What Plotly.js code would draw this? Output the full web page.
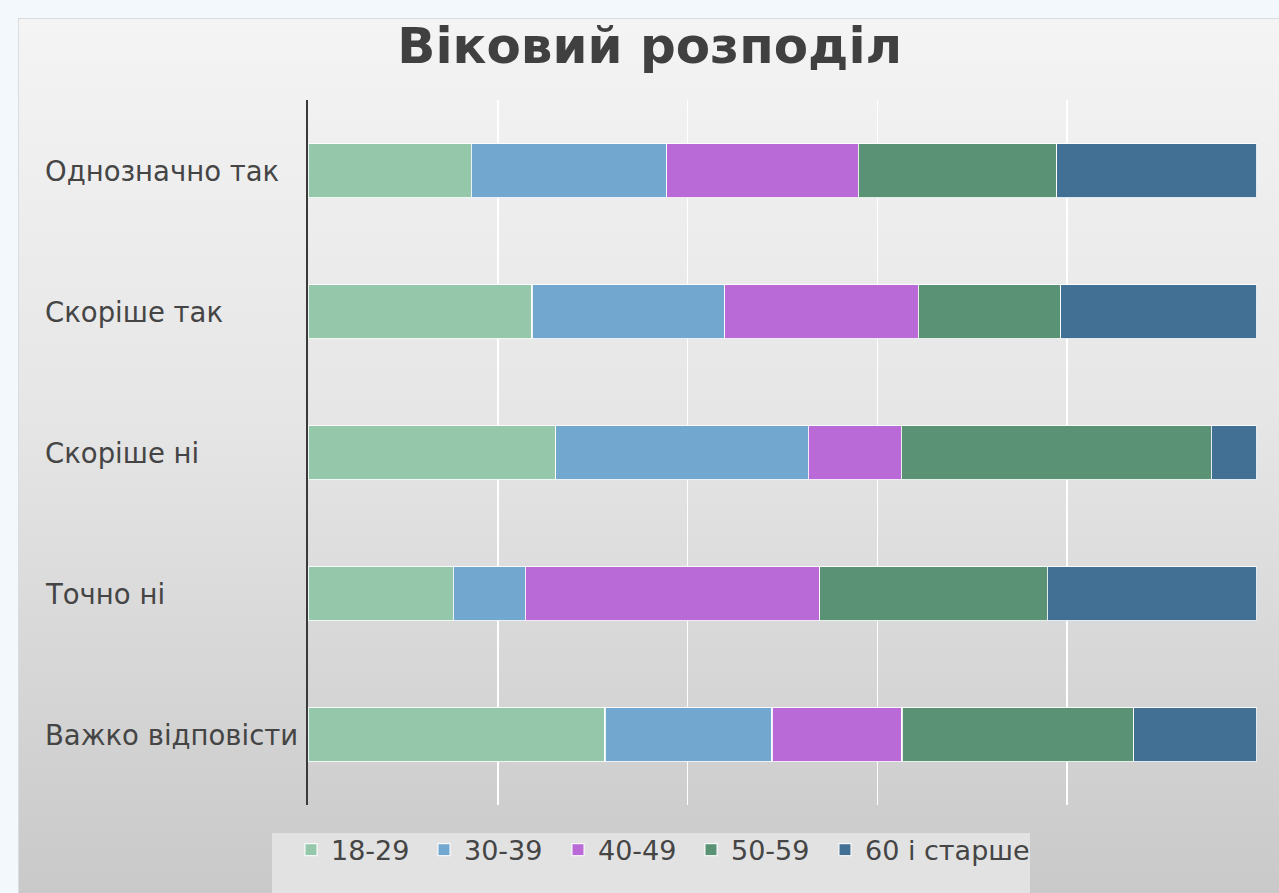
<!DOCTYPE html>
<html>
<head>
<meta charset="utf-8">
<script src="https://cdn.plot.ly/plotly-3.0.1.min.js"></script>
<style>
  html, body { margin:0; padding:0; width:1279px; height:893px; overflow:hidden; background:#f2f8fc; }
  #panel { position:absolute; left:18px; top:18px; width:1261px; height:875px;
           background: linear-gradient(to bottom, #f4f4f4 0%, #e6e6e6 45%, #c9c9c9 100%);
           border-top:1px solid #dcdcdc; border-left:1px solid #dcdcdc; box-sizing:border-box; }
  #chart { position:absolute; left:0; top:0; width:1279px; height:893px; }
</style>
</head>
<body>
<div id="panel"></div>
<div id="chart"></div>
<script>
const categories = ["Однозначно так", "Скоріше так", "Скоріше ні", "Точно ні", "Важко відповісти"];
const seriesNames = ["18-29", "30-39", "40-49", "50-59", "60 і старше"];
const v18_29 = [17.2, 23.6, 26.1, 15.3, 31.3];
const v30_39 = [20.6, 20.3, 26.6, 7.6, 17.6];
const v40_49 = [20.2, 20.4, 9.8, 31.0, 13.7];
const v50_59 = [20.9, 15.0, 32.7, 24.0, 24.4];
const v60plus = [21.1, 20.7, 4.8, 22.1, 13.0];
const titleText = "Віковий розподіл";

const seriesValues = [v18_29, v30_39, v40_49, v50_59, v60plus];
const colors = ["#95c8aa", "#72a8d0", "#b96ad7", "#5a9276", "#427094"];
const FONT = "DejaVu Sans, Liberation Sans, Arial, sans-serif";
const legendLeftPx = [291, 424, 558, 691, 825];

const legendIds = ["legend", "legend2", "legend3", "legend4", "legend5"];

const traces = seriesNames.map((name, i) => ({
  type: "bar",
  orientation: "h",
  name: name,
  legend: legendIds[i],
  y: categories,
  x: seriesValues[i],
  marker: { color: colors[i], line: { color: "rgba(255,255,255,0.85)", width: 1.2 } },
  hoverinfo: "skip"
}));

const annotations = categories.map(c => ({
  xref: "paper", yref: "y", x: -0.279, y: c, xanchor: "left", yanchor: "middle",
  text: c, showarrow: false, font: { family: FONT, size: 27.5, color: "#454545" }
}));

const layout = {
  width: 1279, height: 893,
  paper_bgcolor: "rgba(0,0,0,0)",
  plot_bgcolor: "rgba(0,0,0,0)",
  margin: { l: 308, r: 22, t: 100, b: 88, pad: 0 },
  title: {
    text: "<b>" + titleText + "</b>",
    font: { family: FONT, size: 50, color: "#404040" },
    xref: "container", x: 0.508, xanchor: "center",
    yref: "container", y: 0.949, yanchor: "middle"
  },
  barmode: "stack",
  bargap: 0.617,
  xaxis: {
    range: [0, 100], dtick: 20, tick0: 0,
    showgrid: true, gridcolor: "#ffffff", gridwidth: 1.5,
    zeroline: false, showticklabels: false, showline: false, ticks: "", fixedrange: true
  },
  yaxis: {
    categoryorder: "array", categoryarray: categories, autorange: "reversed",
    showgrid: false, zeroline: false, showticklabels: false, ticks: "",
    showline: true, linecolor: "#3a3a3a", linewidth: 2.5, fixedrange: true
  },
  showlegend: true,
  shapes: [{
    type: "rect", xref: "paper", yref: "paper", layer: "below",
    x0: (272 - 308) / 949, x1: (1030 - 308) / 949,
    y0: (805 - 893) / 705, y1: (805 - 833) / 705,
    fillcolor: "#e2e2e2", line: { width: 0 }
  }],
  annotations: annotations
};

legendIds.forEach((id, i) => {
  layout[id] = {
    orientation: "h",
    xref: "container", x: legendLeftPx[i] / 1279, xanchor: "left",
    yref: "container", y: 0.048, yanchor: "middle",
    font: { family: FONT, size: 27, color: "#454545" },
    bgcolor: "rgba(0,0,0,0)", itemwidth: 30
  };
});

Plotly.newPlot("chart", traces, layout, { displayModeBar: false, staticPlot: true });
</script>
</body>
</html>
